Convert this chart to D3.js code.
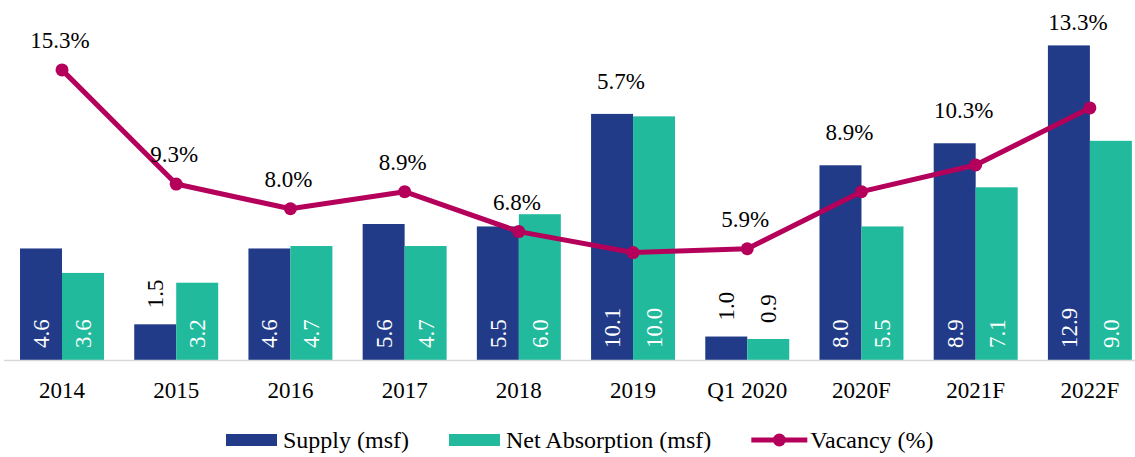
<!DOCTYPE html>
<html>
<head>
<meta charset="utf-8">
<script src="https://cdn.jsdelivr.net/npm/d3@7"></script>
<style>
  html, body { margin: 0; padding: 0; background: #fff; }
  svg { display: block; }
  svg text { font-family: 'Liberation Serif', 'Times New Roman', Times, serif !important; }
</style>
</head>
<body>
<svg id="chart" width="1135" height="457"></svg>
<script>
// Market data by period
const categories = ["2014", "2015", "2016", "2017", "2018", "2019", "Q1 2020", "2020F", "2021F", "2022F"];
const supply = [4.6, 1.5, 4.6, 5.6, 5.5, 10.1, 1.0, 8.0, 8.9, 12.9];
const netAbsorption = [3.6, 3.2, 4.7, 4.7, 6.0, 10.0, 0.9, 5.5, 7.1, 9.0];
const vacancy = [15.3, 9.3, 8.0, 8.9, 6.8, 5.7, 5.9, 8.9, 10.3, 13.3];
const seriesNames = ["Supply (msf)", "Net Absorption (msf)", "Vacancy (%)"];

const colors = { supply: "#213B88", absorb: "#21BA9D", vacancy: "#B5005B" };
const fontSize = 23;
const legendFontSize = 24;
const serif = "Liberation Serif";

const svg = d3.select("#chart");

const plotTop = 18.5, plotBottom = 361;
const x = d3.scaleBand().domain(categories).range([4.9, 1147]).padding(0);
const xInner = d3.scaleBand().domain(["supply", "absorb"]).range([0, x.bandwidth()]).paddingOuter(0.36).paddingInner(0);
const y = d3.scaleLinear().domain([0, 14]).range([plotBottom, plotTop]);
const y2 = d3.scaleLinear().domain([0, 18]).range([plotBottom, plotTop]);

const rows = categories.map((c, i) => ({
  cat: c, supply: supply[i], absorb: netAbsorption[i], vacancy: vacancy[i]
}));

// Bars
const groups = svg.append("g").selectAll("g").data(rows).join("g")
  .attr("transform", d => `translate(${x(d.cat)},0)`);

const barKeys = ["supply", "absorb"];
groups.selectAll("rect").data(d => barKeys.map(k => ({ key: k, value: d[k] })))
  .join("rect")
  .attr("x", d => xInner(d.key))
  .attr("width", xInner.bandwidth())
  .attr("y", d => y(d.value))
  .attr("height", d => y(0) - y(d.value))
  .attr("fill", d => colors[d.key]);

// Category axis (baseline + labels)
const xAxis = d3.axisBottom(x).tickSize(0).tickPadding(20);
const axisG = svg.append("g").attr("transform", `translate(0,${plotBottom})`).call(xAxis)
  .attr("font-family", serif);
axisG.select(".domain").remove();
axisG.selectAll("text")
  .attr("font-family", serif)
  .attr("font-size", fontSize)
  .attr("fill", "#000")
  .attr("dy", "0.76em");
svg.append("line")
  .attr("x1", 4).attr("x2", 1135)
  .attr("y1", plotBottom - 0.5).attr("y2", plotBottom - 0.5)
  .attr("stroke", "#D9D9D9").attr("stroke-width", 1.5);

// Bar value labels (vertical); short bars get the label above in black
groups.selectAll("text.val").data(d => barKeys.map(k => ({ key: k, value: d[k] })))
  .join("text")
  .attr("class", "val")
  .each(function(d) {
    const cx = xInner(d.key) + xInner.bandwidth() / 2;
    const inside = (y(0) - y(d.value)) > 45;
    const startY = inside ? plotBottom - 13 : y(d.value) - 16;
    d3.select(this)
      .attr("transform", `translate(${cx + 8},${startY}) rotate(-90)`)
      .attr("fill", inside ? "#fff" : "#000");
  })
  .attr("font-family", serif)
  .attr("font-size", fontSize)
  .attr("text-anchor", "start")
  .text(d => d.value.toFixed(1));

// Vacancy line
const cx = d => x(d.cat) + x.bandwidth() / 2;
const line = d3.line().x(cx).y(d => y2(d.vacancy));
svg.append("path").datum(rows)
  .attr("d", line)
  .attr("fill", "none")
  .attr("stroke", colors.vacancy)
  .attr("stroke-width", 5)
  .attr("stroke-linejoin", "round");
svg.append("g").selectAll("circle").data(rows).join("circle")
  .attr("cx", cx).attr("cy", d => y2(d.vacancy))
  .attr("r", 6.5).attr("fill", colors.vacancy);

// Vacancy labels: above the point, lifted over the supply bar when the point sits inside it
svg.append("g").selectAll("text").data(rows).join("text")
  .each(function(d) {
    const py = y2(d.vacancy);
    const barTop = y(d.supply);
    let ly = py - 30, lx = cx(d) - 2;
    if (py > barTop + 10) { ly = barTop - 33; lx = cx(d) - 12; }
    ly = Math.max(ly, 22);
    d3.select(this).attr("x", lx).attr("y", ly);
  })
  .attr("dy", "0.35em")
  .attr("text-anchor", "middle")
  .attr("font-family", serif)
  .attr("font-size", fontSize)
  .attr("fill", "#000")
  .text(d => d.vacancy.toFixed(1) + "%");

// Legend
const legend = svg.append("g").attr("transform", "translate(226,440)");
let lxPos = 0;
seriesNames.forEach((name, i) => {
  const item = legend.append("g").attr("transform", `translate(${lxPos},0)`);
  let textX;
  if (i < 2) {
    item.append("rect").attr("x", 0).attr("y", -6).attr("width", 51).attr("height", 12)
      .attr("fill", i === 0 ? colors.supply : colors.absorb);
    textX = 57;
  } else {
    item.append("line").attr("x1", 0).attr("x2", 56).attr("y1", 0).attr("y2", 0)
      .attr("stroke", colors.vacancy).attr("stroke-width", 5);
    item.append("circle").attr("cx", 28).attr("cy", 0).attr("r", 6.5).attr("fill", colors.vacancy);
    textX = 59;
  }
  const t = item.append("text").attr("x", textX).attr("y", 0).attr("dy", "0.35em")
    .attr("font-family", serif)
    .attr("font-size", legendFontSize).attr("fill", "#000").text(name);
  lxPos += textX + t.node().getComputedTextLength() + 40;
});
</script>
</body>
</html>
